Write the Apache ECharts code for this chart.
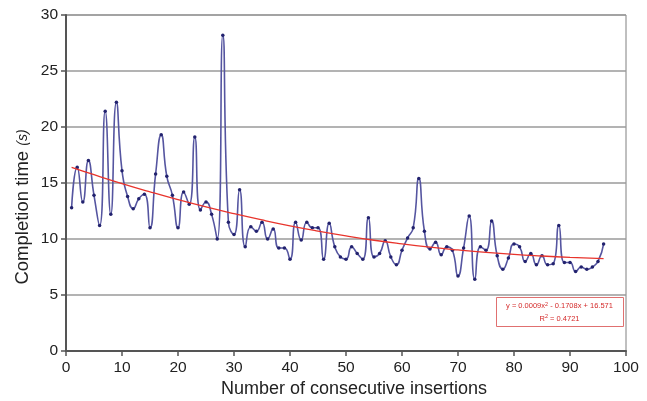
<!DOCTYPE html>
<html>
<head>
<meta charset="utf-8">
<script src="https://cdn.jsdelivr.net/npm/echarts@6/dist/echarts.min.js"></script>
<style>html,body{margin:0;padding:0;background:#fff;}#c{width:647px;height:401px;}</style>
</head>
<body>
<div id="c"></div>
<script>
// Data
var insertions = [1,2,3,4,5,6,7,8,9,10,11,12,13,14,15,16,17,18,19,20,21,22,23,24,25,26,27,28,29,30,31,32,33,34,35,36,37,38,39,40,41,42,43,44,45,46,47,48,49,50,51,52,53,54,55,56,57,58,59,60,61,62,63,64,65,66,67,68,69,70,71,72,73,74,75,76,77,78,79,80,81,82,83,84,85,86,87,88,89,90,91,92,93,94,95,96];
var completionTimes = [12.8,16.4,13.3,17.0,13.9,11.2,21.4,12.2,22.2,16.1,
  13.8,12.7,13.6,14.0,11.0,15.8,19.3,15.6,13.9,11.0,
  14.2,13.1,19.1,12.6,13.3,12.2,10.0,28.2,11.5,10.4,
  14.4,9.3,11.1,10.7,11.5,10.0,10.9,9.2,9.2,8.2,
  11.5,9.9,11.5,11.0,11.0,8.2,11.4,9.3,8.4,8.2,
  9.3,8.7,8.2,11.9,8.4,8.7,9.85,8.4,7.7,9.0,
  10.1,11.0,15.4,10.7,9.1,9.7,8.6,9.3,9.0,6.7,
  9.2,12.05,6.4,9.3,9.0,11.6,8.5,7.3,8.3,9.55,
  9.3,8.0,8.7,7.7,8.5,7.7,7.8,11.2,7.9,7.9,
  7.1,7.5,7.3,7.5,8.0,9.55];
var trendX = [1,5,10,15,20,25,30,35,40,45,50,55,60,65,70,75,80,85,90,96];
var trendY = [16.40,15.74,14.95,14.21,13.51,12.86,12.26,11.70,11.18,10.71,10.28,9.89,9.56,9.27,9.02,8.80,8.62,8.48,8.36,8.25];
var xTicks = [0,10,20,30,40,50,60,70,80,90,100];
var yTicks = [0,5,10,15,20,25,30];
var xTitle = 'Number of consecutive insertions';
var yTitle = ['Completion time ', '(s)'];
var eqLine1 = ['y = 0.0009x', '2', ' - 0.1708x + 16.571'];
var eqLine2 = ['R', '2', ' = 0.4721'];

var mainData = insertions.map(function(x, i){ return [x, completionTimes[i]]; });
var trendData = trendX.map(function(x, i){ return [x, trendY[i]]; });

var font = 'Arial, "Liberation Sans", sans-serif';
var red = '#d42a2a';
var supRich = {t: {fontFamily: font, fontSize: 7.5, fill: red}, s: {fontFamily: font, fontSize: 5.5, fill: red, verticalAlign: 'top', padding: [0,0,4,0]}};
var chart = echarts.init(document.getElementById('c'), null, {renderer: 'canvas'});
chart.setOption({
  animation: false,
  backgroundColor: '#fff',
  grid: {left: 66, right: 21, top: 15, bottom: 50, show: true, borderColor: '#808080', borderWidth: 1, backgroundColor: 'transparent'},
  xAxis: {
    type: 'value', min: xTicks[0], max: xTicks[xTicks.length-1], interval: 10,
    axisLine: {show: true, onZero: false, lineStyle: {color: '#555', width: 2}},
    axisTick: {show: true, length: 5, lineStyle: {color: '#555', width: 1.5}},
    axisLabel: {fontFamily: font, fontSize: 15.5, color: '#222', margin: 9},
    splitLine: {show: false}
  },
  yAxis: {
    type: 'value', min: yTicks[0], max: yTicks[yTicks.length-1], interval: 5,
    axisLine: {show: true, lineStyle: {color: '#555', width: 2}},
    axisTick: {show: true, length: 5, lineStyle: {color: '#555', width: 1.5}},
    axisLabel: {fontFamily: font, fontSize: 15.5, color: '#222', margin: 8},
    splitLine: {show: true, lineStyle: {color: '#9a9a9a', width: 1.5}}
  },
  series: [
    {
      type: 'line', data: mainData, smooth: 0.55,
      symbol: 'circle', symbolSize: 3.5,
      lineStyle: {color: '#5555a0', width: 1.6},
      itemStyle: {color: '#22226e'},
      z: 3
    },
    {
      type: 'line', data: trendData, smooth: true, symbol: 'none',
      lineStyle: {color: '#e8342c', width: 1.3},
      z: 4
    }
  ],
  graphic: [
    {type: 'text', x: 354, y: 389, z: 11,
      style: {text: xTitle, align: 'center', verticalAlign: 'middle', font: '18px ' + font, fill: '#222'}},
    {type: 'text', x: 23, y: 207, rotation: Math.PI / 2, z: 11,
      style: {text: '{a|' + yTitle[0] + '}{b|' + yTitle[1] + '}', align: 'center', verticalAlign: 'middle',
        rich: {a: {fontFamily: font, fontSize: 18.5, fill: '#222'}, b: {fontFamily: font, fontSize: 14, fontStyle: 'italic', fill: '#222'}}}},
    {type: 'rect', left: 496, top: 297, shape: {width: 127, height: 29},
      style: {fill: '#fff', stroke: '#e07070', lineWidth: 1}, z: 10},
    {type: 'text', x: 559.5, y: 306, z: 11,
      style: {text: '{t|' + eqLine1[0] + '}{s|' + eqLine1[1] + '}{t|' + eqLine1[2] + '}',
        align: 'center', verticalAlign: 'middle', rich: supRich}},
    {type: 'text', x: 559.5, y: 318.5, z: 11,
      style: {text: '{t|' + eqLine2[0] + '}{s|' + eqLine2[1] + '}{t|' + eqLine2[2] + '}',
        align: 'center', verticalAlign: 'middle', rich: supRich}}
  ]
});
</script>
</body>
</html>
